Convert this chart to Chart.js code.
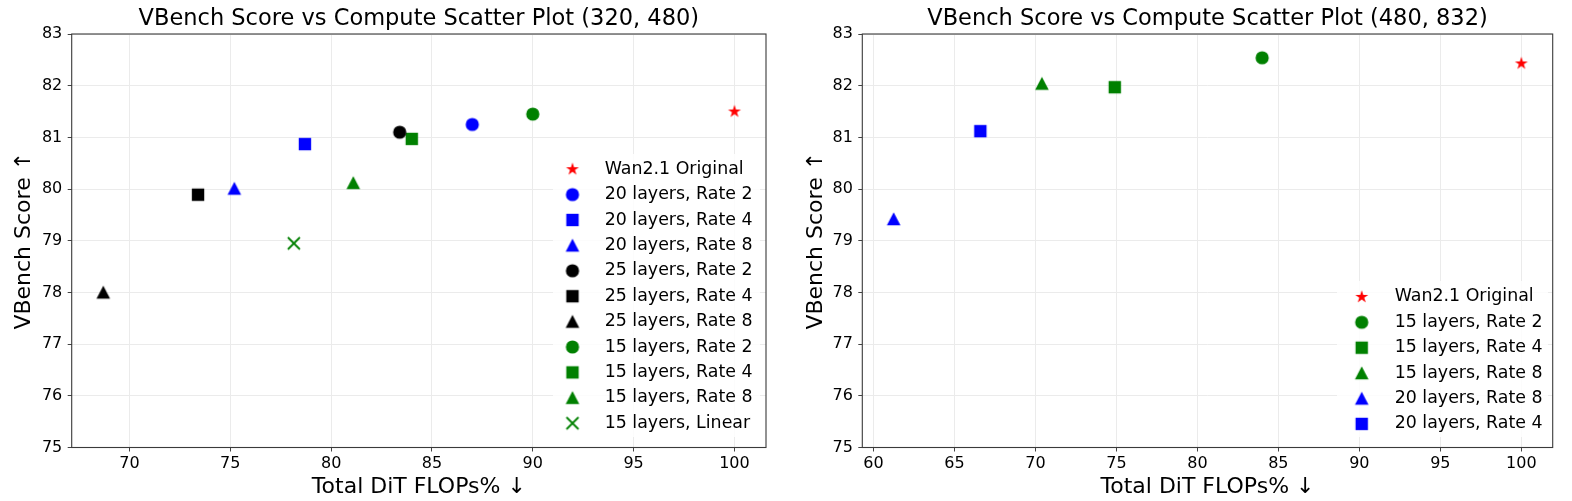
<!DOCTYPE html>
<html>
<head>
<meta charset="utf-8">
<script src="https://cdn.jsdelivr.net/npm/chart.js@4.4.1/dist/chart.umd.min.js"></script>
<style>
  html, body { margin: 0; padding: 0; background: #fff; }
  #wrap { position: relative; width: 1572px; height: 501px; }
  canvas { position: absolute; top: 0; }
</style>
</head>
<body>
<div id="wrap">
  <canvas id="left" width="780" height="501" style="left:0"></canvas>
  <canvas id="right" width="792" height="501" style="left:780px"></canvas>
</div>
<script>
// (320, 480)
const leftLabels = ['Wan2.1 Original', '20 layers, Rate 2', '20 layers, Rate 4', '20 layers, Rate 8',
  '25 layers, Rate 2', '25 layers, Rate 4', '25 layers, Rate 8',
  '15 layers, Rate 2', '15 layers, Rate 4', '15 layers, Rate 8', '15 layers, Linear'];
const leftFlops = [100, 87.0, 78.7, 75.2, 83.4, 73.4, 68.7, 90.0, 84.0, 81.1, 78.15];
const leftScores = [81.50, 81.25, 80.87, 80.01, 81.10, 79.89, 78.00, 81.45, 80.97, 80.12, 78.95];

// (480, 832)
const rightLabels = ['Wan2.1 Original', '15 layers, Rate 2', '15 layers, Rate 4', '15 layers, Rate 8',
  '20 layers, Rate 8', '20 layers, Rate 4'];
const rightFlops = [100, 84.0, 74.9, 70.4, 61.25, 66.6];
const rightScores = [82.43, 82.54, 81.97, 82.04, 79.42, 81.12];

const yTicks = [75, 83];

// marker shape / colour for each series
const leftStyles = [['star', '#ff0000'], ['circle', '#0000ff'], ['square', '#0000ff'], ['triangle', '#0000ff'],
  ['circle', '#000000'], ['square', '#000000'], ['triangle', '#000000'],
  ['circle', '#008000'], ['square', '#008000'], ['triangle', '#008000'], ['x', '#008000']];
const rightStyles = [['star', '#ff0000'], ['circle', '#008000'], ['square', '#008000'], ['triangle', '#008000'],
  ['triangle', '#0000ff'], ['square', '#0000ff']];

Chart.defaults.font.family = 'DejaVu Sans';
Chart.defaults.color = '#000';

function marker(shape, color) {
  const c = document.createElement('canvas');
  c.width = 18; c.height = 18;
  const g = c.getContext('2d');
  const m = 9;
  g.fillStyle = color;
  g.strokeStyle = color;
  g.beginPath();
  if (shape === 'circle') {
    g.arc(m, m, 6.6, 0, Math.PI * 2);
  } else if (shape === 'square') {
    g.rect(m - 6.2, m - 6.2, 12.4, 12.4);
  } else if (shape === 'triangle') {
    g.moveTo(m, m - 6.8);
    g.lineTo(m + 6.8, m + 6.2);
    g.lineTo(m - 6.8, m + 6.2);
    g.closePath();
  } else if (shape === 'star') {
    for (let i = 0; i < 10; i++) {
      const r = i % 2 ? 2.6 : 6.8;
      const a = -Math.PI / 2 + i * Math.PI / 5;
      g.lineTo(m + r * Math.cos(a), m + r * Math.sin(a));
    }
    g.closePath();
  } else if (shape === 'x') {
    g.moveTo(m - 6, m - 6); g.lineTo(m + 6, m + 6);
    g.moveTo(m + 6, m - 6); g.lineTo(m - 6, m + 6);
    g.lineWidth = 1.8;
    g.stroke();
    return c;
  }
  g.fill();
  return c;
}

function padRange(vals) {
  const lo = Math.min(...vals), hi = Math.max(...vals), p = (hi - lo) * 0.05;
  return [lo - p, hi + p];
}

// frame on all four sides, like matplotlib spines
const frame = {
  id: 'frame',
  afterDatasetsDraw(chart) {
    const a = chart.chartArea, ctx = chart.ctx;
    ctx.save();
    ctx.strokeStyle = '#3a3a3a';
    ctx.lineWidth = 1.1;
    ctx.strokeRect(a.left, a.top, a.right - a.left, a.bottom - a.top);
    ctx.restore();
  }
};

// put the legend inside the plot with a white box under it
function legendAt(x, y, bg) {
  return {
    id: 'legendAt',
    afterLayout(chart) {
      const lg = chart.legend;
      lg.left = x; lg.right = x + 260;
      lg.top = y; lg.bottom = y + 420;
      if (!lg._bg) {
        const draw = lg.draw.bind(lg);
        lg.draw = function (area) {
          const ctx = chart.ctx;
          ctx.save();
          ctx.fillStyle = 'rgba(255,255,255,0.85)';
          ctx.fillRect(bg[0], bg[1], bg[2], bg[3]);
          ctx.restore();
          draw(area);
        };
        lg._bg = true;
      }
    }
  };
}

function makeChart(id, o) {
  const datasets = o.labels.map((lab, i) => ({
    label: lab,
    data: [{ x: o.flops[i], y: o.scores[i] }],
    pointStyle: marker(o.styles[i][0], o.styles[i][1]),
    pointRadius: 7,
    backgroundColor: o.styles[i][1],
    borderColor: o.styles[i][1]
  }));
  const xr = padRange(o.flops);
  const tickFont = { size: 16 };
  const grid = { color: '#ebebeb', tickColor: '#444', tickLength: 4, lineWidth: 1 };
  return new Chart(document.getElementById(id), {
    type: 'scatter',
    data: { datasets: datasets },
    options: {
      responsive: false,
      animation: false,
      devicePixelRatio: 1,
      layout: { padding: { left: 0, right: o.padRight, top: 0, bottom: 0 } },
      events: [],
      plugins: {
        tooltip: { enabled: false },
        title: {
          display: true,
          text: o.title,
          fullSize: false,
          color: '#000',
          font: { size: 22.5, weight: 'normal' },
          padding: { top: 6.0, bottom: 1.0 }
        },
        legend: {
          position: 'chartArea',
          align: 'start',
          labels: {
            usePointStyle: true,
            pointStyleWidth: o.legendW,
            boxHeight: 17,
            padding: 8.0,
            color: '#000',
            font: { size: 17.4 }
          }
        }
      },
      scales: {
        x: {
          type: 'linear',
          min: xr[0],
          max: xr[1],
          grid: grid,
          border: { display: false },
          ticks: { stepSize: 5, includeBounds: false, font: tickFont, color: '#000', padding: 3 },
          title: { display: true, text: 'Total DiT FLOPs% ↓', color: '#000', font: { size: 22 }, padding: { top: 0, bottom: 0.8 } },
          afterFit: (s) => { s.height = 53.5; }
        },
        y: {
          type: 'linear',
          min: yTicks[0],
          max: yTicks[1],
          grid: grid,
          border: { display: false },
          ticks: { stepSize: 1, font: tickFont, color: '#000', padding: 5.4 },
          title: { display: true, text: 'VBench Score ↑', color: '#000', font: { size: 22 }, padding: { top: o.yTitlePad, bottom: 0 } },
          afterFit: (s) => { s.width = o.axisLeft; }
        }
      }
    },
    plugins: [frame, legendAt(o.legendX, o.legendY, o.legendBg)]
  });
}

makeChart('left', {
  labels: leftLabels, flops: leftFlops, scores: leftScores, styles: leftStyles,
  title: 'VBench Score vs Compute Scatter Plot (320, 480)',
  axisLeft: 71.7, padRight: 14, yTitlePad: 10.8,
  legendW: 47, legendX: 541, legendY: 152.5, legendBg: [553, 154, 207, 283]
});

makeChart('right', {
  labels: rightLabels, flops: rightFlops, scores: rightScores, styles: rightStyles,
  title: 'VBench Score vs Compute Scatter Plot (480, 832)',
  axisLeft: 82.3, padRight: 19.3, yTitlePad: 22.8,
  legendW: 48.5, legendX: 549.5, legendY: 280.2, legendBg: [557, 281, 211, 156]
});
</script>
</body>
</html>
